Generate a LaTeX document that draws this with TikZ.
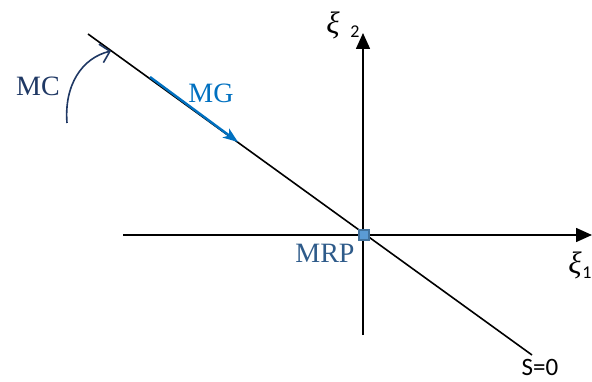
\documentclass[tikz,border=0pt]{standalone}
\usepackage{fontspec}
\setmainfont{Liberation Serif}
\setsansfont{Carlito}
\usetikzlibrary{arrows.meta}
\definecolor{mcblue}{HTML}{1F3864}
\definecolor{mgblue}{HTML}{0070C0}
\definecolor{mrpblue}{HTML}{2E5B8A}
\definecolor{sqfill}{HTML}{5B9BD5}
\definecolor{sqdraw}{HTML}{41719C}
\begin{document}
\begin{tikzpicture}[x=1pt,y=-1pt,
  axis/.style={line width=1.6pt,-{Triangle[length=16pt,width=14pt]}},
  sline/.style={line width=1.6pt},
  lab/.style={font=\fontsize{28}{30}\selectfont,inner sep=0pt},
  greek/.style={font=\itshape\fontsize{31}{33}\selectfont,inner sep=0pt},
  subnum/.style={font=\sffamily\fontsize{18}{20}\selectfont,inner sep=0pt},
  sqlab/.style={font=\sffamily\fontsize{25}{27}\selectfont,inner sep=0pt},
  sqbox/.style={draw=sqdraw,fill=sqfill,line width=1.2pt,minimum size=10pt,inner sep=0pt}]
\useasboundingbox (0,0) rectangle (592,382);
\clip (0,0) rectangle (592,382);
% axes
\coordinate (hx0) at (123,235);
\coordinate (hx1) at (592,235);
\coordinate (vy0) at (363,335);
\coordinate (vy1) at (363,33);
\draw[axis] (hx0) -- (hx1);
\draw[axis] (vy0) -- (vy1);
% S=0 line
\coordinate (s0) at (88,34);
\coordinate (s1) at (532,355);
\draw[sline] (s0) -- (s1);
% MRP square
\node[sqbox] (mrp) at (364,235) {};
% MG arrow
\coordinate (mg0) at (150,77);
\coordinate (mg1) at (238,142);
\draw[mgblue,line width=2.4pt,-{Stealth[length=15pt,width=11pt,inset=4pt]}] (mg0) -- (mg1);
% MC arc
\coordinate (mc0) at (67,123);
\coordinate (mc1) at (111,51);
\draw[mcblue,line width=1.6pt,-{Straight Barb[length=9pt,width=19pt,line width=1.6pt]}] (mc0) .. controls (64,85) and (82,58) .. (mc1);
% labels
\node[lab,text=mcblue] (mclab) at (38,86) {MC};
\node[lab,text=mgblue] (mglab) at (211,93) {MG};
\node[lab,text=mrpblue] (mrplab) at (325,253) {MRP};
\node[sqlab] (s0lab) at (540,367) {S=0};
\node[greek] (xi2) at (333,25) {ξ};
\node[subnum] (xi2s) at (355,32) {2};
\node[greek] (xi1) at (575,265) {ξ};
\node[subnum] (xi1s) at (587,273) {1};
\end{tikzpicture}
\end{document}
